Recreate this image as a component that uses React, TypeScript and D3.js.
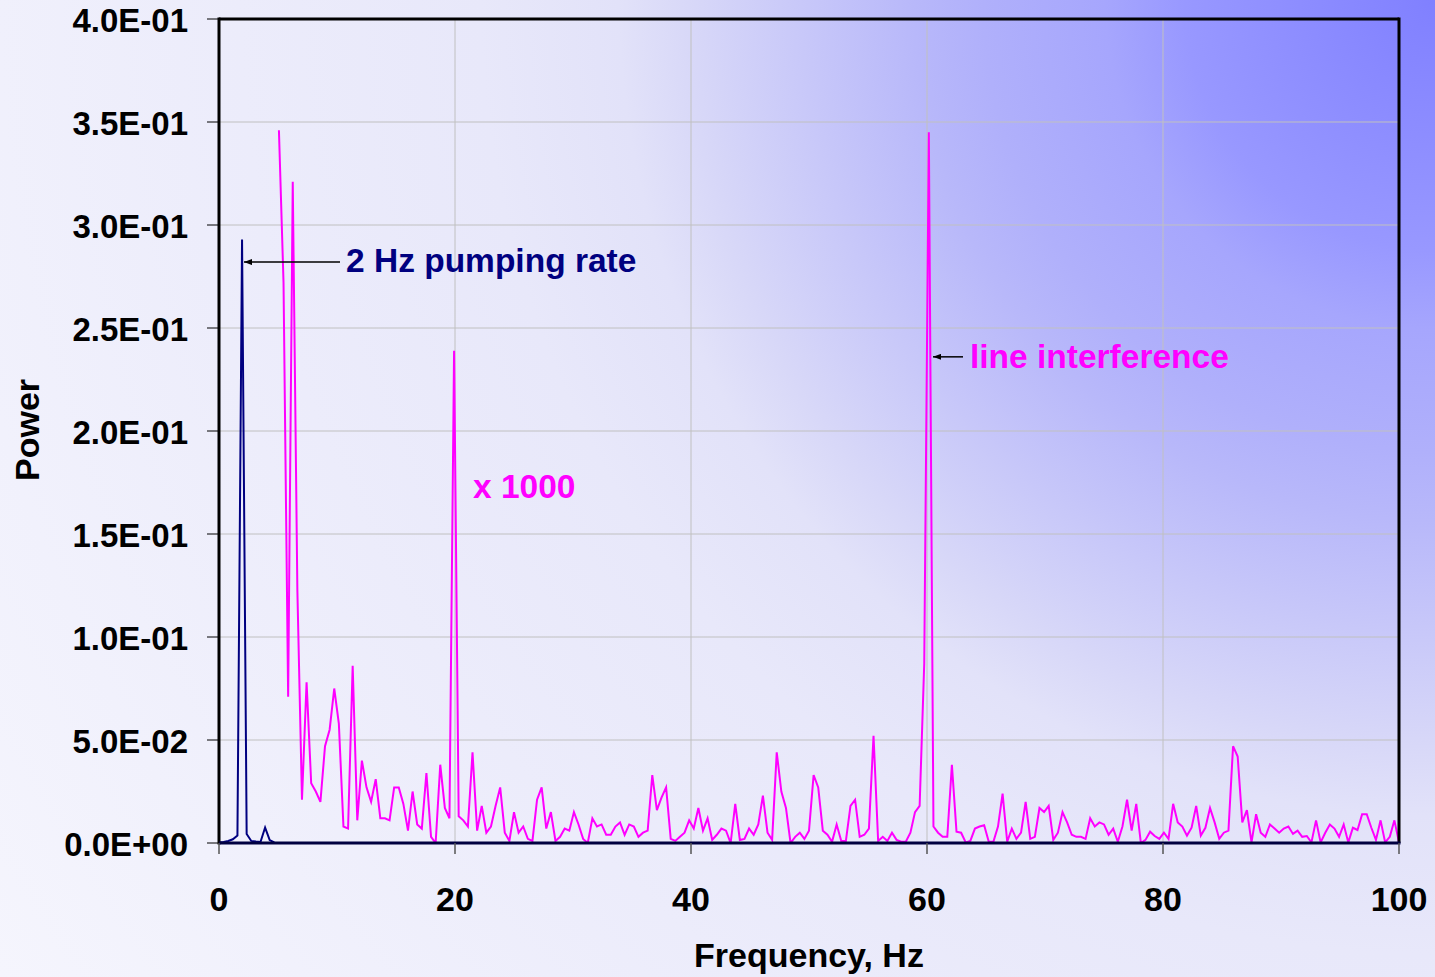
import React from "react";
import * as d3 from "d3";

// Frequency resolution of the spectrum (Hz per bin)
const FREQ_STEP = 100 / 256;

// Blue series: raw spectrum (bins 0..12)
const BLUE_START_BIN = 0;
const blueValues = [
  0.0003, 0.0005, 0.001, 0.0018, 0.0036, 0.293, 0.0044, 0.001, 0.0007, 0.0005,
  0.0075, 0.0014, 0.0003,
];

// Magenta series: spectrum x 1000 (bins 13..256)
const MAGENTA_START_BIN = 13;
const magentaValues = [
  0.346, 0.272, 0.071, 0.321, 0.123, 0.021, 0.078, 0.029, 0.025, 0.020,
  0.047, 0.055, 0.075, 0.058, 0.008, 0.007, 0.086, 0.011, 0.040, 0.027,
  0.020, 0.031, 0.012, 0.012, 0.011, 0.027, 0.027, 0.019, 0.006, 0.025,
  0.009, 0.007, 0.034, 0.003, 0.000, 0.038, 0.017, 0.012, 0.239, 0.013,
  0.011, 0.008, 0.044, 0.006, 0.018, 0.005, 0.008, 0.018, 0.027, 0.005,
  0.001, 0.015, 0.005, 0.008, 0.002, 0.001, 0.021, 0.027, 0.007, 0.015,
  0.001, 0.003, 0.007, 0.006, 0.015, 0.009, 0.002, 0.000, 0.012, 0.008,
  0.009, 0.004, 0.004, 0.008, 0.010, 0.004, 0.009, 0.008, 0.003, 0.005,
  0.006, 0.033, 0.016, 0.022, 0.027, 0.002, 0.001, 0.003, 0.005, 0.011,
  0.007, 0.017, 0.006, 0.012, 0.0015, 0.004, 0.007, 0.006, 0.000, 0.019,
  0.0015, 0.002, 0.007, 0.004, 0.009, 0.023, 0.005, 0.0015, 0.044, 0.025,
  0.017, 0.000, 0.003, 0.005, 0.002, 0.006, 0.033, 0.027, 0.006, 0.004,
  0.0006, 0.009, 0.001, 0.001, 0.018, 0.021, 0.003, 0.004, 0.007, 0.052,
  0.001, 0.003, 0.001, 0.005, 0.0015, 0.0006, 0.0006, 0.005, 0.015, 0.018,
  0.087, 0.345, 0.008, 0.005, 0.003, 0.003, 0.038, 0.0055, 0.005, 0.0003,
  0.001, 0.007, 0.008, 0.0086, 0.0006, 0.0006, 0.008, 0.024, 0.0006, 0.007,
  0.002, 0.005, 0.020, 0.002, 0.003, 0.017, 0.015, 0.018, 0.0015, 0.005,
  0.015, 0.010, 0.004, 0.003, 0.003, 0.002, 0.012, 0.008, 0.010, 0.009,
  0.004, 0.007, 0.0006, 0.008, 0.021, 0.006, 0.019, 0.000, 0.0015, 0.0055,
  0.0034, 0.002, 0.005, 0.002, 0.019, 0.010, 0.008, 0.0036, 0.0074, 0.018,
  0.0036, 0.0074, 0.017, 0.010, 0.002, 0.005, 0.006, 0.047, 0.042, 0.010,
  0.016, 0.0003, 0.014, 0.005, 0.003, 0.009, 0.007, 0.005, 0.007, 0.008,
  0.0044, 0.006, 0.003, 0.0034, 0.0003, 0.011, 0.0003, 0.005, 0.009, 0.007,
  0.003, 0.009, 0.0003, 0.0074, 0.0063, 0.014, 0.014, 0.0074, 0.0015, 0.011,
  0.0003, 0.003, 0.011, 0.0003,
];

const xTicks = [0, 20, 40, 60, 80, 100];
const yTicks = [0, 0.05, 0.1, 0.15, 0.2, 0.25, 0.3, 0.35, 0.4];

const W = 1435;
const H = 977;
const M = { left: 219, right: 1399, top: 19, bottom: 843 };
const FONT = "'Liberation Sans', Arial, sans-serif";

function fmtExp(v: number): string {
  const [m, e] = v.toExponential(1).split("e");
  const sign = e[0] === "-" ? "-" : "+";
  const digits = e.replace(/^[+-]/, "").padStart(2, "0");
  return `${m}E${sign}${digits}`;
}

export default function App() {
  const x = d3.scaleLinear().domain([0, 100]).range([M.left, M.right]);
  const y = d3.scaleLinear().domain([0, 0.4]).range([M.bottom, M.top]);

  const line = d3
    .line<[number, number]>()
    .x((d) => x(d[0]))
    .y((d) => y(d[1]));

  const bluePts: [number, number][] = blueValues.map((v, i) => [
    (BLUE_START_BIN + i) * FREQ_STEP,
    v,
  ]);
  const magPts: [number, number][] = magentaValues.map((v, i) => [
    (MAGENTA_START_BIN + i) * FREQ_STEP,
    v,
  ]);

  return (
    <svg
      width={W}
      height={H}
      style={{ position: "absolute", left: 0, top: 0, display: "block" }}
      fontFamily={FONT}
    >
      <defs>
        <radialGradient id="bg" gradientUnits="userSpaceOnUse" cx={W} cy={0} r={1736}>
          <stop offset="0" stopColor="#8080ff" />
          <stop offset="0.144" stopColor="#9898ff" />
          <stop offset="0.19" stopColor="#a6a6fd" />
          <stop offset="0.26" stopColor="#b0b0fb" />
          <stop offset="0.3" stopColor="#b8b8fa" />
          <stop offset="0.43" stopColor="#d8d8f8" />
          <stop offset="0.47" stopColor="#e2e2f9" />
          <stop offset="0.55" stopColor="#e8e8fa" />
          <stop offset="1" stopColor="#f5f5fd" />
        </radialGradient>
        <marker
          id="arrow"
          viewBox="0 0 10 10"
          refX="10"
          refY="5"
          markerUnits="userSpaceOnUse"
          markerWidth="8"
          markerHeight="6"
          orient="auto"
          preserveAspectRatio="none"
        >
          <path d="M0,0 L10,5 L0,10 Z" fill="#000" />
        </marker>
        <clipPath id="plotClip">
          <rect x={M.left} y={M.top} width={M.right - M.left} height={M.bottom - M.top} />
        </clipPath>
      </defs>

      <rect x={0} y={0} width={W} height={H} fill="url(#bg)" />

      {/* gridlines */}
      {yTicks.map((t) => (
        <line
          key={`gy${t}`}
          x1={M.left}
          x2={M.right}
          y1={y(t)}
          y2={y(t)}
          stroke="#c0c0c0"
          strokeWidth={1}
        />
      ))}
      {xTicks.map((t) => (
        <line
          key={`gx${t}`}
          x1={x(t)}
          x2={x(t)}
          y1={M.top}
          y2={M.bottom}
          stroke="#c0c0c0"
          strokeWidth={1}
        />
      ))}

      {/* series */}
      <g clipPath="url(#plotClip)">
        <path d={line(magPts) || ""} fill="none" stroke="#ff00ff" strokeWidth={2} />
        <path d={line(bluePts) || ""} fill="none" stroke="#000080" strokeWidth={2} />
      </g>

      {/* frame */}
      <line x1={M.left} x2={M.right} y1={M.top} y2={M.top} stroke="#000" strokeWidth={3} />
      <line x1={M.right} x2={M.right} y1={M.top - 1.5} y2={M.bottom} stroke="#000" strokeWidth={3} />
      <line x1={M.left} x2={M.left} y1={M.top - 1.5} y2={M.bottom + 1.5} stroke="#000" strokeWidth={3} />
      <line x1={M.left} x2={M.right + 1.5} y1={M.bottom} y2={M.bottom} stroke="#000040" strokeWidth={3} />

      {/* y axis ticks & labels */}
      {yTicks.map((t) => (
        <g key={`yt${t}`}>
          <line x1={M.left - 12} x2={M.left} y1={y(t)} y2={y(t)} stroke="#000" strokeWidth={1} />
          <text
            x={188}
            y={y(t) + 1}
            textAnchor="end"
            dominantBaseline="central"
            fontSize={33}
            fontWeight="bold"
            fill="#000"
          >
            {fmtExp(t)}
          </text>
        </g>
      ))}

      {/* x axis ticks & labels */}
      {xTicks.map((t) => (
        <g key={`xt${t}`}>
          <line x1={x(t)} x2={x(t)} y1={M.bottom} y2={M.bottom + 11} stroke="#555" strokeWidth={1.5} />
          <text
            x={x(t)}
            y={911}
            textAnchor="middle"
            fontSize={34}
            fontWeight="bold"
            fill="#000"
          >
            {t}
          </text>
        </g>
      ))}

      {/* axis titles */}
      <text x={809} y={967} textAnchor="middle" fontSize={34} fontWeight="bold" fill="#000">
        Frequency, Hz
      </text>
      <text
        transform="translate(39,430) rotate(-90)"
        textAnchor="middle"
        fontSize={34}
        fontWeight="bold"
        fill="#000"
      >
        Power
      </text>

      {/* annotations */}
      <line
        x1={340}
        y1={y(0.282)}
        x2={244}
        y2={y(0.282)}
        stroke="#000"
        strokeWidth={1.5}
        markerEnd="url(#arrow)"
      />
      <text x={346} y={272} fontSize={33.5} fontWeight="bold" fill="#000080">
        2 Hz pumping rate
      </text>

      <line
        x1={963}
        y1={y(0.236)}
        x2={933}
        y2={y(0.236)}
        stroke="#000"
        strokeWidth={1.5}
        markerEnd="url(#arrow)"
      />
      <text x={970} y={368} fontSize={33.5} fontWeight="bold" fill="#ff00ff">
        line interference
      </text>

      <text x={473} y={498} fontSize={33.5} fontWeight="bold" fill="#ff00ff">
        x 1000
      </text>
    </svg>
  );
}
